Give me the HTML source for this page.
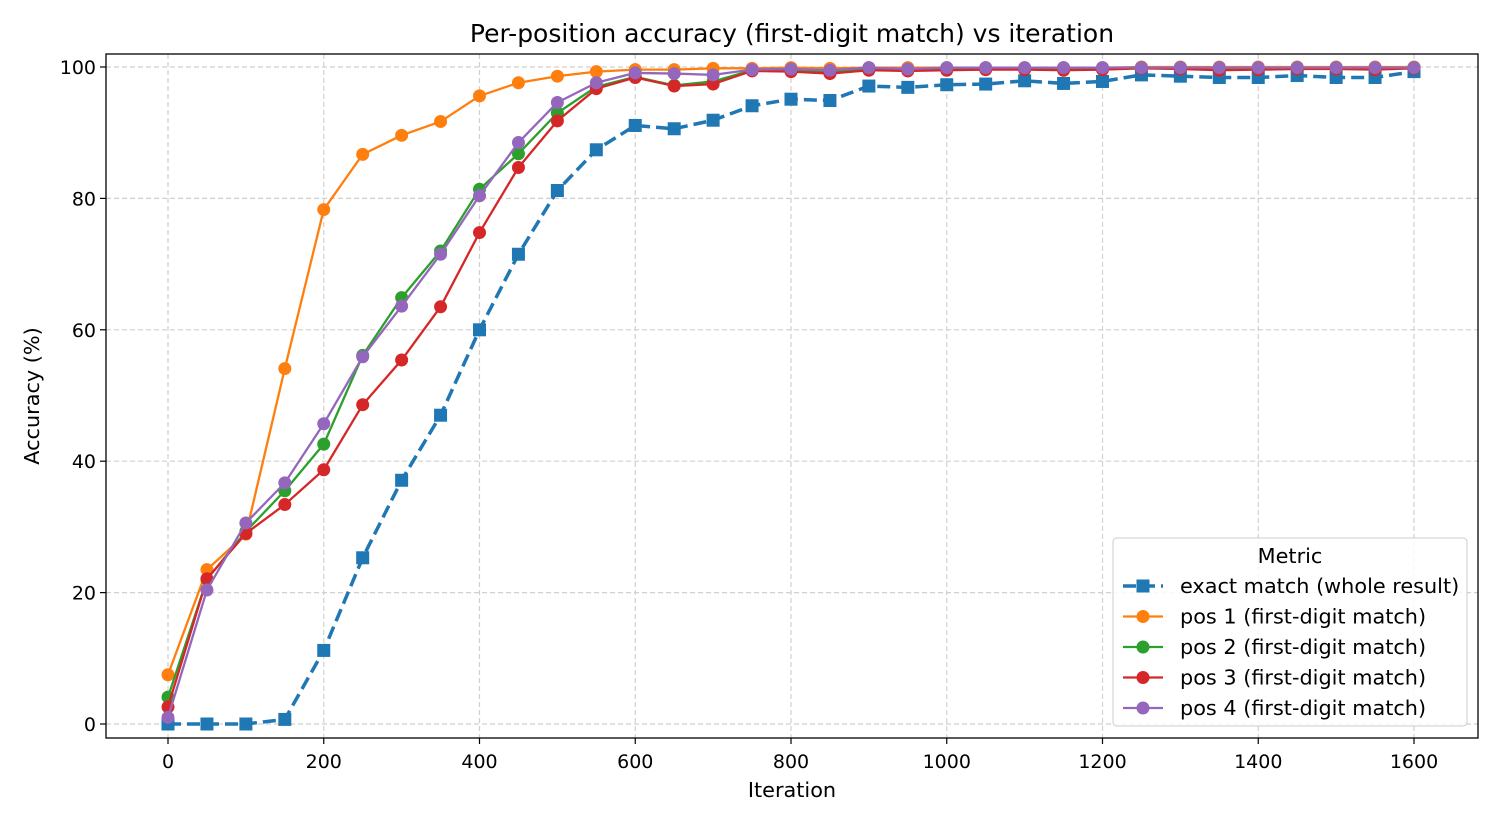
<!DOCTYPE html>
<html><head><meta charset="utf-8"><style>
html,body{margin:0;padding:0;background:#fff}
svg{display:block;font-family:"DejaVu Sans","Liberation Sans",sans-serif}
</style></head><body>
<svg id="chart" width="1500" height="825" xmlns="http://www.w3.org/2000/svg">
<rect width="1500" height="825" fill="#fff"/>
<text x="792" y="42" font-size="25" text-anchor="middle">Per-position accuracy (first-digit match) vs iteration</text>
<g id="grid"></g><g id="axes"></g><g id="series"></g>
<text x="792" y="797" font-size="20.8" text-anchor="middle">Iteration</text>
<text transform="translate(39,396) rotate(-90)" font-size="20.8" text-anchor="middle">Accuracy (%)</text>
<g id="legend"></g>
</svg>
<script>
const iterations=[0,50,100,150,200,250,300,350,400,450,500,550,600,650,700,750,800,850,900,950,1000,1050,1100,1150,1200,1250,1300,1350,1400,1450,1500,1550,1600];
const exactMatch=[0,0,0,0.7,11.2,25.3,37.1,47,60,71.5,81.2,87.4,91.1,90.6,91.9,94.1,95.1,94.9,97.1,96.9,97.3,97.4,97.9,97.5,97.8,98.8,98.6,98.4,98.4,98.7,98.4,98.4,99.3];
const pos1=[7.5,23.5,28.9,54.1,78.3,86.7,89.6,91.7,95.6,97.6,98.6,99.3,99.6,99.6,99.8,99.8,99.9,99.8,99.9,99.9,99.9,99.9,99.9,99.9,99.9,100,100,100,100,100,100,100,100];
const pos2=[4.1,22,29.3,35.5,42.6,56.1,64.9,72,81.4,86.8,93,97,98.5,97.2,97.8,99.5,99.5,99.3,99.6,99.6,99.7,99.8,99.7,99.7,99.8,99.9,99.9,99.8,99.8,99.9,99.9,99.8,99.9];
const pos3=[2.6,22.1,29,33.4,38.7,48.6,55.4,63.5,74.8,84.7,91.8,96.7,98.4,97.1,97.4,99.4,99.3,99,99.5,99.4,99.5,99.6,99.6,99.5,99.6,99.8,99.7,99.5,99.6,99.7,99.7,99.6,99.8];
const pos4=[1,20.4,30.6,36.7,45.7,55.9,63.6,71.5,80.4,88.5,94.6,97.6,99.1,99,98.8,99.6,99.7,99.5,99.9,99.7,99.9,99.9,99.9,99.9,99.9,99.9,99.9,99.9,99.9,99.9,99.9,99.9,99.9];
const xTicks=[0,200,400,600,800,1000,1200,1400,1600];
const yTicks=[0,20,40,60,80,100];
const seriesNames=["exact match (whole result)","pos 1 (first-digit match)","pos 2 (first-digit match)","pos 3 (first-digit match)","pos 4 (first-digit match)"];
const NS="http://www.w3.org/2000/svg";
const L=106,R=1478,T=54,B=738;
function sx(v){return 168+v*(1414-168)/1600;}
function sy(v){return 724-v*(724-67)/100;}
function mk(tag,attrs,parent){const e=document.createElementNS(NS,tag);for(const k in attrs)e.setAttribute(k,attrs[k]);parent.appendChild(e);return e;}
const grid=document.getElementById('grid'),axes=document.getElementById('axes'),ser=document.getElementById('series'),leg=document.getElementById('legend');
xTicks.forEach(t=>{const x=sx(t);
 const g=mk('line',{x1:x,x2:x,y1:T,y2:B,stroke:'#d0d0d0','stroke-width':1.2,'stroke-dasharray':'5,3'},grid);
 
 
 mk('line',{x1:x,x2:x,y1:B,y2:B+6,stroke:'#000','stroke-width':1.2},axes);
 const tx=mk('text',{x:x,y:B+30,'font-size':19,'text-anchor':'middle'},axes);tx.textContent=t;
 
 });
yTicks.forEach(t=>{const y=sy(t);
 const g=mk('line',{x1:L,x2:R,y1:y,y2:y,stroke:'#d0d0d0','stroke-width':1.2,'stroke-dasharray':'5,3'},grid);
 
 
 mk('line',{x1:L-6,x2:L,y1:y,y2:y,stroke:'#000','stroke-width':1.2},axes);
 const tx=mk('text',{x:L-10,y:y+7,'font-size':19,'text-anchor':'end'},axes);tx.textContent=t;
 
 });
const frame=mk('rect',{x:L,y:T,width:R-L,height:B-T,fill:'none',stroke:'#000','stroke-width':1.3},axes);


const allSeries=[exactMatch,pos1,pos2,pos3,pos4];
const colors=['#1f77b4','#ff7f0e','#2ca02c','#d62728','#9467bd'];
const keys=['exact-match','pos-1','pos-2','pos-3','pos-4'];
allSeries.forEach((vals,i)=>{
 const g=mk('g',{},ser);
 
 
 const pts=vals.map((v,j)=>sx(iterations[j])+','+sy(v)).join(' ');
 const line=mk('polyline',{points:pts,fill:'none',stroke:colors[i],'stroke-width':i==0?3.5:2.3,'stroke-dasharray':i==0?'13,6':'none','stroke-linejoin':'round'},g);
 
 
 vals.forEach((v,j)=>{const x=sx(iterations[j]),y=sy(v);let m;
  if(i==0)m=mk('rect',{x:x-6.5,y:y-6.5,width:13,height:13,fill:colors[i]},g);
  else m=mk('circle',{cx:x,cy:y,r:6.5,fill:colors[i]},g);
  
  });
});
const lb=mk('rect',{x:1113,y:538,width:354,height:188,rx:4,fill:'#fff','fill-opacity':0.85,stroke:'#ccc','stroke-width':1},leg);


const lt=mk('text',{x:1290,y:563,'font-size':20.8,'text-anchor':'middle'},leg);lt.textContent='Metric';


seriesNames.forEach((n,i)=>{const y=586+i*30.5;
 const g=mk('g',{},leg);
 
 
 mk('line',{x1:1123,x2:1163,y1:y,y2:y,stroke:colors[i],'stroke-width':i==0?3.5:2.3,'stroke-dasharray':i==0?'13,6':'none'},g);
 if(i==0)mk('rect',{x:1136.5,y:y-6.5,width:13,height:13,fill:colors[i]},g);
 else mk('circle',{cx:1143,cy:y,r:6.5,fill:colors[i]},g);
 const t=mk('text',{x:1180,y:y+7,'font-size':20.8},g);t.textContent=n;});
</script>
</body></html>
